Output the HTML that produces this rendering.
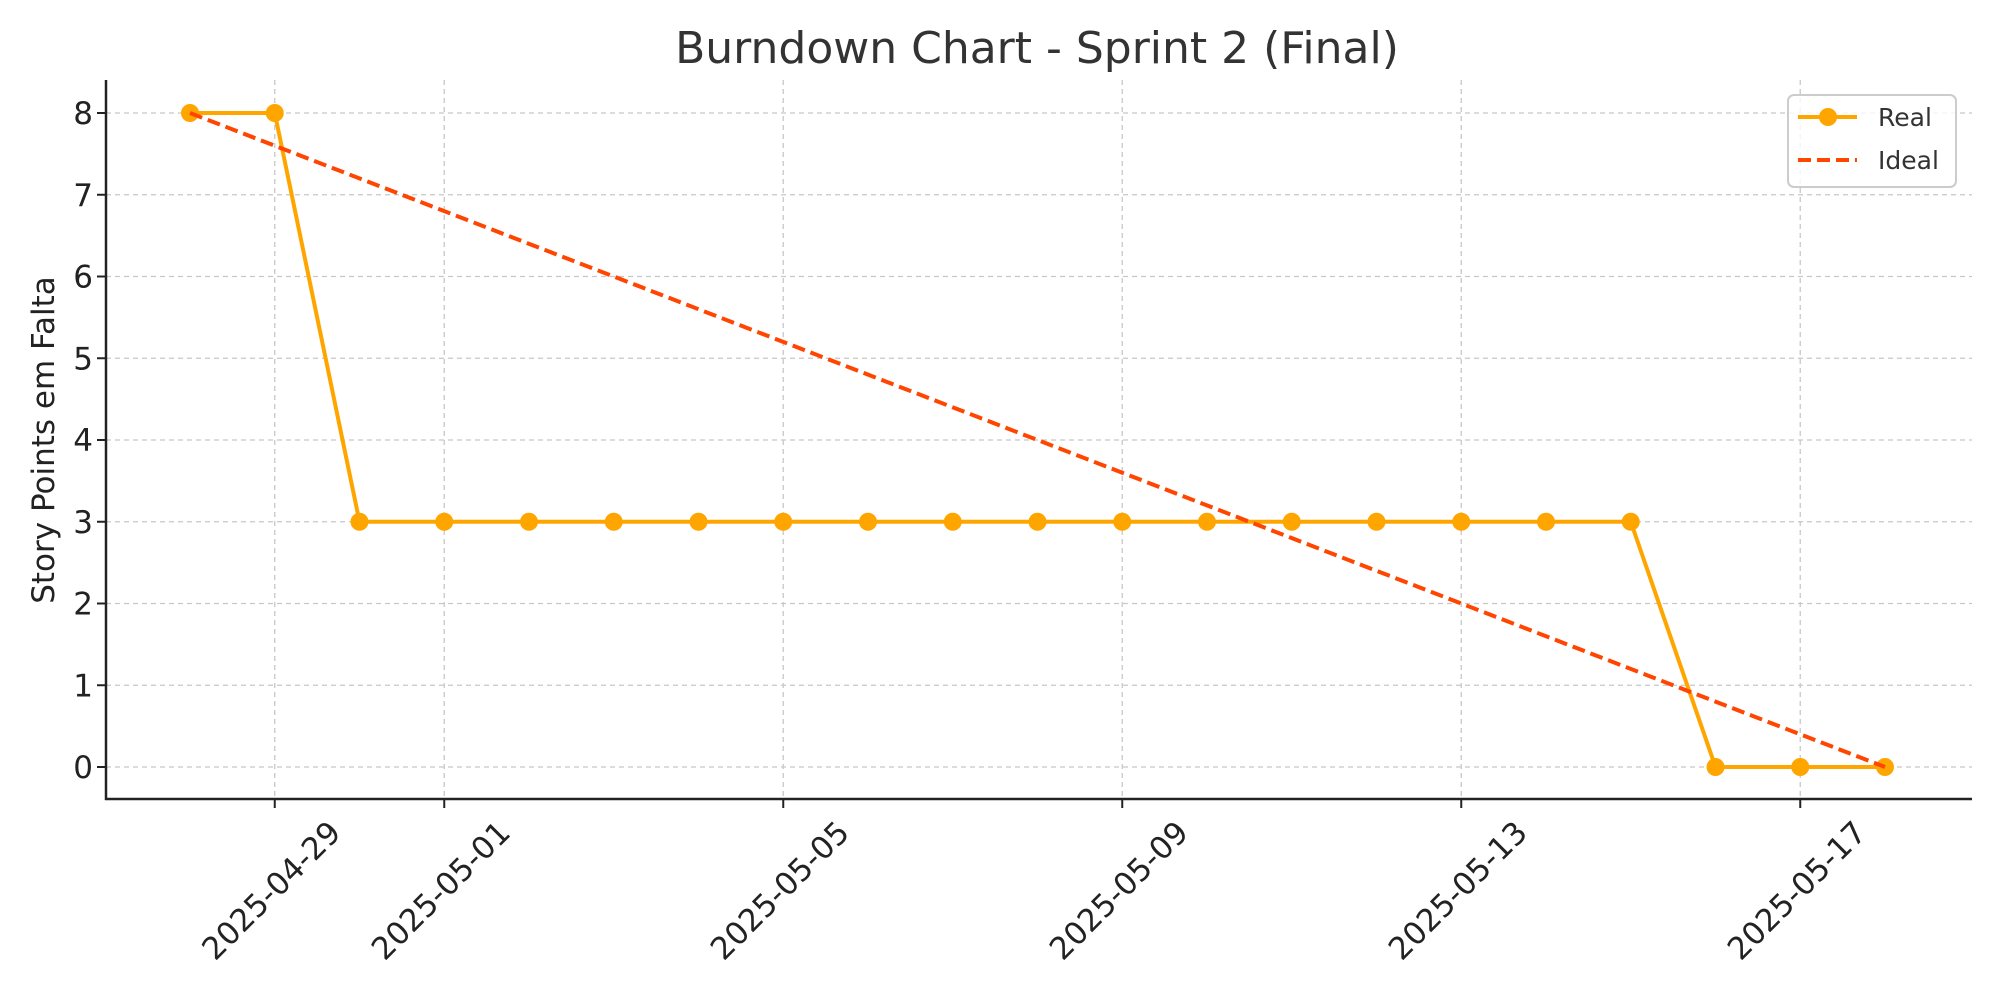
<!DOCTYPE html>
<html><head><meta charset="utf-8"><style>
html,body{margin:0;padding:0;background:#fff;}
svg{display:block;font-family:"DejaVu Sans","Liberation Sans",sans-serif;}
</style></head><body>
<svg id="chart" width="2000" height="1000" viewBox="0 0 2000 1000" xmlns="http://www.w3.org/2000/svg">
<rect width="2000" height="1000" fill="#fff"/>
<text x="1037" y="63" font-size="44" text-anchor="middle" fill="#333">Burndown Chart - Sprint 2 (Final)</text>
<text transform="translate(54,440) rotate(-90)" font-size="31" text-anchor="middle" fill="#222">Story Points em Falta</text>
<g id="grid"></g><g id="axes"></g><g id="series"></g>
<g>
<rect x="1788" y="95" width="168" height="92" rx="6" fill="#fff" fill-opacity="0.8" stroke="#ccc" stroke-width="2"/>
<line x1="1798" y1="117" x2="1857" y2="117" stroke="#FFA500" stroke-width="4"/>
<circle cx="1828" cy="117" r="9" fill="#FFA500"/>
<text x="1878" y="126" font-size="25" fill="#333">Real</text>
<line x1="1798" y1="160" x2="1857" y2="160" stroke="#FF4500" stroke-width="4" stroke-dasharray="13,6"/>
<text x="1878" y="169" font-size="25" fill="#333">Ideal</text>
</g>
</svg>
<script>
const dates=["2025-04-28","2025-04-29","2025-04-30","2025-05-01","2025-05-02","2025-05-03","2025-05-04","2025-05-05","2025-05-06","2025-05-07","2025-05-08","2025-05-09","2025-05-10","2025-05-11","2025-05-12","2025-05-13","2025-05-14","2025-05-15","2025-05-16","2025-05-17","2025-05-18"];
const realValues=[8,8,3,3,3,3,3,3,3,3,3,3,3,3,3,3,3,3,0,0,0];
const idealValues=[8,0];
const idealDates=["2025-04-28","2025-05-18"];
const xTickLabels=["2025-04-29","2025-05-01","2025-05-05","2025-05-09","2025-05-13","2025-05-17"];
const yTicks=[0,1,2,3,4,5,6,7,8];

const NS="http://www.w3.org/2000/svg";
const d0=new Date(dates[0]).getTime();
function dayIdx(s){return (new Date(s).getTime()-d0)/86400000;}
function X(s){return 190+dayIdx(s)*84.75;}
function Y(v){return 767-v*81.75;}
function mk(tag,attrs,parent){const e=document.createElementNS(NS,tag);for(const k in attrs)e.setAttribute(k,attrs[k]);parent.appendChild(e);return e;}
const grid=document.getElementById('grid'),axes=document.getElementById('axes'),series=document.getElementById('series');
yTicks.forEach(v=>{
  const g=mk('line',{x1:106,x2:1972,y1:Y(v),y2:Y(v),stroke:'#c8c8c8','stroke-width':1.3,'stroke-dasharray':'5,4'},grid);
  
  
  mk('line',{x1:97,x2:106,y1:Y(v),y2:Y(v),stroke:'#222','stroke-width':2},axes);
  const t=mk('text',{x:93,y:Y(v)+11,'font-size':31,'text-anchor':'end',fill:'#222'},axes);
  
  
  t.textContent=v;
});
xTickLabels.forEach(s=>{
  const x=X(s);
  const g=mk('line',{x1:x,x2:x,y1:80,y2:799,stroke:'#c8c8c8','stroke-width':1.3,'stroke-dasharray':'5,4'},grid);
  
  
  mk('line',{x1:x,x2:x,y1:799,y2:808,stroke:'#222','stroke-width':2},axes);
  const t=mk('text',{transform:`translate(${x-3},891) rotate(-45)`,'font-size':31,'text-anchor':'middle','dominant-baseline':'central',fill:'#222'},axes);
  
  
  t.textContent=s;
});
const ya=mk('line',{x1:106,x2:106,y1:80,y2:800,stroke:'#222','stroke-width':2.5},axes);


const xa=mk('line',{x1:105,x2:1972,y1:799,y2:799,stroke:'#222','stroke-width':2.5},axes);



const rp=mk('polyline',{points:dates.map((d,i)=>X(d)+','+Y(realValues[i])).join(' '),fill:'none',stroke:'#FFA500','stroke-width':4,'stroke-linejoin':'round'},series);


dates.forEach((d,i)=>{
  const c=mk('circle',{cx:X(d),cy:Y(realValues[i]),r:9,fill:'#FFA500'},series);
  
  
});
const ip=mk('polyline',{points:idealDates.map((d,i)=>X(d)+','+Y(idealValues[i])).join(' '),fill:'none',stroke:'#FF4500','stroke-width':4,'stroke-dasharray':'13,6'},series);


</script>
</body></html>
